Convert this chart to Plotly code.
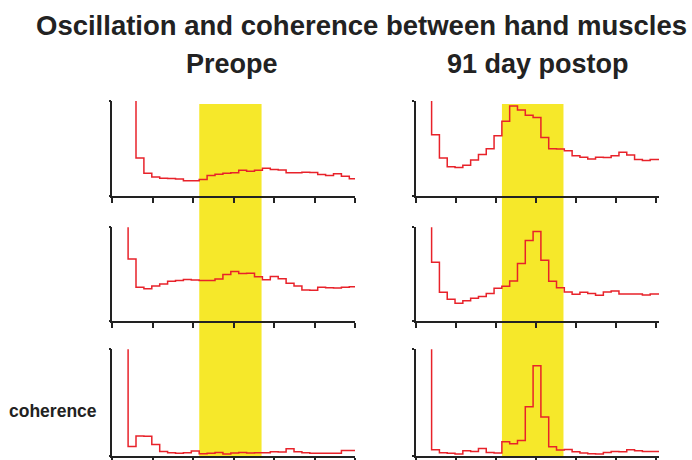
import plotly.graph_objects as go

W, H = 692, 460
RES = 1000 / 512  # frequency resolution (Hz per bin)

# ---- data: bins k = 1..30, values normalised to the top of each axis (values > 1 run off scale)
bins = list(range(1, 31))
freq = [k * RES for k in bins]

pre_osc1 = [2.5, 2.5, 0.40, 0.24, 0.199, 0.188, 0.185, 0.178, 0.160, 0.160,
            0.174, 0.216, 0.230, 0.240, 0.244, 0.272, 0.261, 0.272, 0.293, 0.279,
            0.275, 0.244, 0.244, 0.251, 0.247, 0.226, 0.216, 0.233, 0.209, 0.181]
pre_osc2 = [2.5, 0.663, 0.361, 0.347, 0.375, 0.396, 0.425, 0.435, 0.446, 0.439,
            0.435, 0.435, 0.449, 0.498, 0.530, 0.509, 0.512, 0.474, 0.442, 0.477,
            0.453, 0.404, 0.375, 0.333, 0.330, 0.361, 0.358, 0.354, 0.361, 0.368]
pre_coh = [2.5, 0.087, 0.186, 0.183, 0.106, 0.040, 0.028, 0.022, 0.028, 0.043,
           0.019, 0.022, 0.031, 0.016, 0.025, 0.031, 0.025, 0.028, 0.028, 0.037,
           0.034, 0.065, 0.037, 0.028, 0.022, 0.022, 0.022, 0.022, 0.050, 0.050]
post_osc1 = [2.5, 0.645, 0.401, 0.307, 0.300, 0.324, 0.380, 0.436, 0.498, 0.634,
             0.787, 0.948, 0.906, 0.850, 0.826, 0.617, 0.498, 0.495, 0.477, 0.425,
             0.408, 0.390, 0.408, 0.404, 0.425, 0.460, 0.432, 0.383, 0.373, 0.383]
post_osc2 = [2.5, 0.628, 0.309, 0.235, 0.193, 0.218, 0.246, 0.263, 0.295, 0.351,
             0.372, 0.428, 0.614, 0.860, 0.954, 0.649, 0.425, 0.358, 0.312, 0.288,
             0.309, 0.295, 0.277, 0.312, 0.323, 0.291, 0.291, 0.291, 0.281, 0.291]
post_coh = [2.5, 0.056, 0.028, 0.022, 0.016, 0.047, 0.040, 0.068, 0.031, 0.025,
            0.130, 0.112, 0.143, 0.460, 0.845, 0.363, 0.084, 0.053, 0.059, 0.037,
            0.025, 0.019, 0.016, 0.031, 0.040, 0.037, 0.056, 0.047, 0.040, 0.040]

band_hz = [21.5, 36.9]          # highlighted frequency band
xticks = [0, 10, 20, 30, 40, 50, 60]

title_text = "Oscillation and coherence between hand muscles"
col_titles = ["Preope", "91 day postop"]
row_label = "coherence"

# ---- layout geometry (pixels)
cols = [dict(x0=112.3, x1=355.0, xmax=60.0), dict(x0=416.0, x1=659.0, xmax=60.8)]
rows = [(101, 196), (227.3, 321.3), (349.3, 455.7)]
series = [[pre_osc1, post_osc1], [pre_osc2, post_osc2], [pre_coh, post_coh]]

FONT = "Liberation Sans, Arial, Helvetica, sans-serif"
RED = "#e8222a"
AX = "#222222"

fig = go.Figure()
layout = dict(width=W, height=H, margin=dict(l=0, r=0, t=0, b=0),
              paper_bgcolor="white", plot_bgcolor="rgba(0,0,0,0)",
              showlegend=False, font=dict(family=FONT, color="#222"))

n = 0
for r, (top, bot) in enumerate(rows):
    for c, col in enumerate(cols):
        n += 1
        xa = "xaxis" if n == 1 else f"xaxis{n}"
        ya = "yaxis" if n == 1 else f"yaxis{n}"
        xr = "x" if n == 1 else f"x{n}"
        yr = "y" if n == 1 else f"y{n}"
        vals = series[r][c]
        xs = freq + [col["xmax"]]
        ys = vals + [vals[-1]]
        fig.add_trace(go.Scatter(x=xs, y=ys, mode="lines", line=dict(color=RED, width=1.5, shape="hv"),
                                 xaxis=xr, yaxis=yr, hoverinfo="skip"))
        layout[xa] = dict(domain=[col["x0"] / W, col["x1"] / W], range=[0, col["xmax"]], anchor=yr,
                          showline=True, linecolor=AX, linewidth=2, ticks="outside", ticklen=5,
                          tickwidth=2, tickcolor=AX, tickvals=xticks, showticklabels=False,
                          showgrid=False, zeroline=False, fixedrange=True)
        layout[ya] = dict(domain=[1 - bot / H, 1 - top / H], range=[0, 1], anchor=xr,
                          showline=True, linecolor=AX, linewidth=1.5, ticks="outside", ticklen=2,
                          tickwidth=1.5, tickcolor=AX, tickvals=[0, 1], showticklabels=False,
                          showgrid=False, zeroline=False, fixedrange=True)

shapes = []
for col in cols:
    d0, d1 = col["x0"] / W, col["x1"] / W
    px0 = d0 + band_hz[0] / col["xmax"] * (d1 - d0)
    px1 = d0 + band_hz[1] / col["xmax"] * (d1 - d0)
    shapes.append(dict(type="rect", xref="paper", yref="paper", x0=px0, x1=px1,
                       y0=1 - 458 / H, y1=1 - 104 / H, fillcolor="#f6e82a",
                       line=dict(width=0), layer="below"))
layout["shapes"] = shapes

annotations = [
    dict(text=f"<b>{title_text}</b>", x=361.5 / W, y=1 - 25.6 / H, xref="paper", yref="paper",
         xanchor="center", yanchor="middle", showarrow=False, font=dict(size=27.5, family=FONT, color="#222")),
    dict(text=f"<b>{col_titles[0]}</b>", x=232.5 / W, y=1 - 63.9 / H, xref="paper", yref="paper",
         xanchor="center", yanchor="middle", showarrow=False, font=dict(size=27, family=FONT, color="#222")),
    dict(text=f"<b>{col_titles[1]}</b>", x=538 / W, y=1 - 63.9 / H, xref="paper", yref="paper",
         xanchor="center", yanchor="middle", showarrow=False, font=dict(size=27, family=FONT, color="#222")),
    dict(text=f"<b>{row_label}</b>", x=52.5 / W, y=1 - 410.6 / H, xref="paper", yref="paper",
         xanchor="center", yanchor="middle", showarrow=False, font=dict(size=17.5, family=FONT, color="#222")),
]
layout["annotations"] = annotations

fig.update_layout(**layout)
fig.write_html("out.html", config={"displayModeBar": False})
